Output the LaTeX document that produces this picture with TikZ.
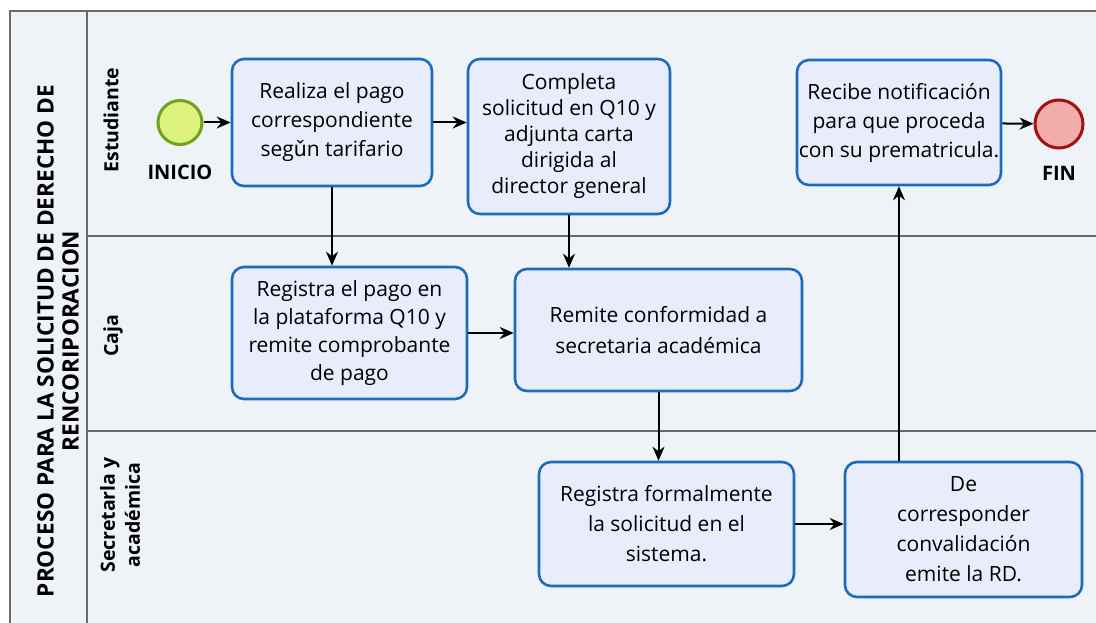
\documentclass[tikz,border=0pt]{standalone}
\usepackage{fontspec}
\setmainfont{Open Sans}
\newfontfamily\notofont{Noto Sans}
\usetikzlibrary{arrows.meta}

\definecolor{poolbg}{RGB}{239,243,248}
\definecolor{lanegray}{RGB}{105,105,105}
\definecolor{taskblue}{RGB}{28,108,188}
\definecolor{taskfill}{RGB}{232,236,251}
\definecolor{startfill}{RGB}{222,242,128}
\definecolor{startline}{RGB}{112,162,28}
\definecolor{endfill}{RGB}{242,172,172}
\definecolor{endline}{RGB}{162,18,18}

\begin{document}
\begin{tikzpicture}[x=1pt,y=-1pt]
    		\newcommand{\poolx}{10}
    		\newcommand{\headx}{87}
    		\newcommand{\rightx}{1096}
    		\newcommand{\topy}{11}
    		\newcommand{\lanea}{236} % Estudiante / Caja
    		\newcommand{\laneb}{431} % Caja / Secretaria
    		\newcommand{\boty}{623}

    		% set the styles of tasks, events and flows
    		\tikzset{
    			task/.style={
    				draw=taskblue,
    				fill=taskfill,
    				line width=2.6pt,
    				rounded corners=12pt,
    				align=center,
    				inner sep=0pt,
    				font=\fontsize{21}{29}\selectfont
    				},
    			lanelabel/.style={
    				rotate=90,
    				align=center,
    				font=\bfseries\fontsize{19.5}{25}\selectfont
    				},
    			eventlabel/.style={
    				font=\bfseries\fontsize{20}{23}\selectfont
    				},
    			flow/.style={
    				-{Stealth[length=14pt,width=12pt]},
    				line width=2pt
    				}
    		}

    		\useasboundingbox (0,0) rectangle (\rightx,\boty);

    		% pool and lanes
    		\fill[poolbg] (\poolx,\topy) rectangle (\rightx,\boty);
    		\draw[lanegray, line width=1.6pt] (\rightx,\topy) -- (\poolx,\topy) -- (\poolx,\boty);
    		\draw[lanegray, line width=1.4pt] (\headx,\topy) -- (\headx,\boty);
    		\draw[lanegray, line width=1.4pt] (\headx,\lanea) -- (\rightx,\lanea);
    		\draw[lanegray, line width=1.4pt] (\headx,\laneb) -- (\rightx,\laneb);

    		% labels of pool and lanes
    		\node[lanelabel, font=\bfseries\fontsize{22.6}{25}\selectfont] (pool) at (58,341) {PROCESO PARA LA SOLICITUD DE DERECHO DE\\RENCORIPORACION};
    		\node[lanelabel] (estudiante) at (111,120) {Estudiante};
    		\node[lanelabel] (caja) at (113,336) {Caja};
    		\node[lanelabel] (secretaria) at (120,515) {Secretarla y\\académica};

    		% events
    		\node[circle, draw=startline, fill=startfill, line width=3pt, minimum size=44pt, inner sep=0pt] (inicio) at (180,122.5) {};
    		\node[eventlabel] (inicio label) at (180,172) {INICIO};
    		\node[circle, draw=endline, fill=endfill, line width=3pt, minimum size=48pt, inner sep=0pt] (fin) at (1059,124) {};
    		\node[eventlabel] (fin label) at (1059,173) {FIN};

    		% tasks
    		\node[task, minimum width=200pt, minimum height=127pt] (realiza) at (332,122.5) {Realiza el pago\\correspondiente\\seg{\notofont ǔ}n tarifario};
    		\node[task, minimum width=202pt, minimum height=155pt, font=\fontsize{21}{26}\selectfont] (completa) at (569,136.5) {Completa\\solicitud en Q10 y\\adjunta carta\\dirigida al\\director general};
    		\node[task, minimum width=204pt, minimum height=125pt] (recibe) at (899,122.5) {Recibe notificación\\para que proceda\\con su prematricula.};
    		\node[task, minimum width=235pt, minimum height=132pt, font=\fontsize{21}{28}\selectfont] (regpago) at (349.5,333) {Registra el pago en\\la plataforma Q10 y\\remite comprobante\\de pago};
    		\node[task, minimum width=287pt, minimum height=122pt, font=\fontsize{21}{31}\selectfont] (remite) at (658.5,330) {Remite conformidad a\\secretaria académica};
    		\node[task, minimum width=255pt, minimum height=124pt, font=\fontsize{21}{30}\selectfont] (regform) at (666.5,524) {Registra formalmente\\la solicitud en el\\sistema.};
    		\node[task, minimum width=237pt, minimum height=135pt, font=\fontsize{21}{30}\selectfont] (decorr) at (963.5,529.5) {De\\corresponder\\convalidación\\emite la RD.};

    		% flows
    		\draw[flow] (inicio) -- (realiza);
    		\draw[flow] (realiza.east) -- (realiza.east -| completa.west);
    		\draw[flow] (realiza.south) -- (realiza.south |- regpago.north);
    		\draw[flow] (completa.south) -- (completa.south |- remite.north);
    		\draw[flow] (regpago.east) -- (regpago.east -| remite.west);
    		\draw[flow] (remite.south) -- (remite.south |- regform.north);
    		\draw[flow] (regform.east) -- (regform.east -| decorr.west);
    		\draw[flow] (decorr.north -| recibe.south) -- (recibe.south);
    		\draw[flow] (recibe) -- (fin);

		\end{tikzpicture}
\end{document}
